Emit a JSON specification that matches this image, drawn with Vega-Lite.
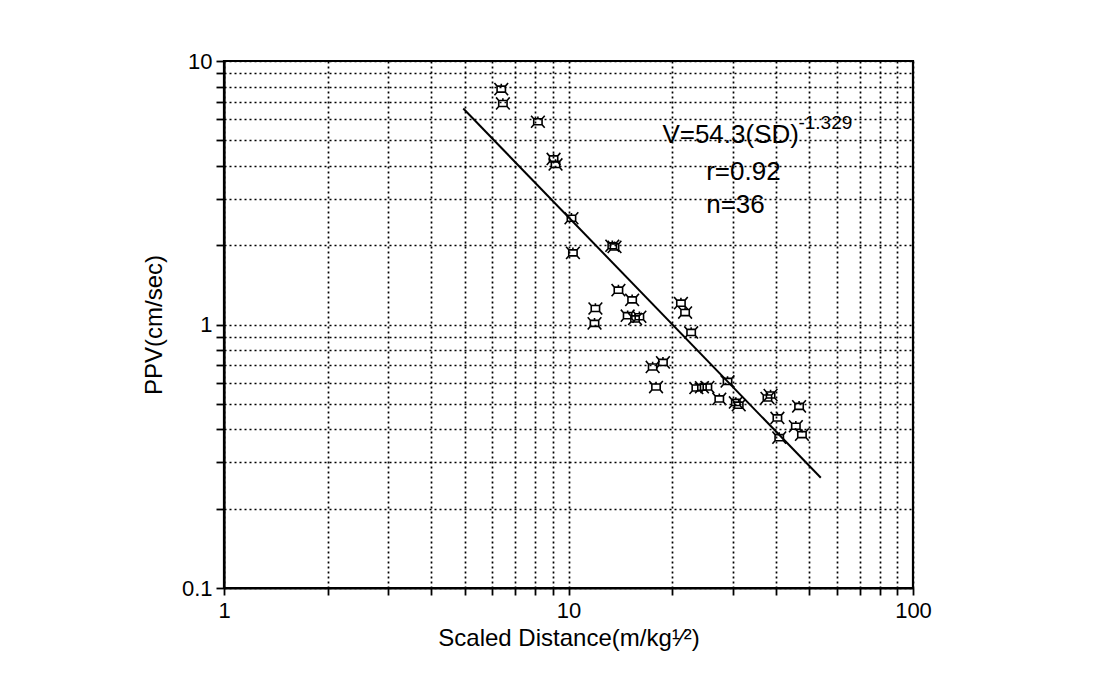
{
  "$schema": "https://vega.github.io/schema/vega-lite/v6.json",
  "autosize": {"type": "none"},
  "width": 689,
  "height": 527,
  "padding": {"left": 224, "top": 61, "right": 190, "bottom": 108},
  "background": "white",
  "config": {
    "view": {"stroke": "black", "strokeWidth": 2.2},
    "font": "Liberation Sans",
    "axis": {
      "domainColor": "black",
      "domainWidth": 2.2,
      "tickColor": "black",
      "tickWidth": 1.8,
      "grid": true,
      "gridColor": "black",
      "gridDash": [2, 3],
      "gridWidth": 1.7,
      "gridOpacity": 1,
      "labelColor": "black",
      "labelFont": "Liberation Sans",
      "labelFontSize": 22,
      "titleColor": "black",
      "titleFont": "Liberation Sans",
      "titleFontSize": 24,
      "titleFontWeight": "normal",
      "labelOverlap": false,
      "labelFlush": false
    }
  },
  "datasets": {
    "points": [
      {"sd": 6.38, "ppv": 7.82}, {"sd": 6.45, "ppv": 6.9}, {"sd": 8.15, "ppv": 5.88},
      {"sd": 9.17, "ppv": 4.05}, {"sd": 9.05, "ppv": 4.25}, {"sd": 10.2, "ppv": 2.53},
      {"sd": 13.4, "ppv": 1.99}, {"sd": 13.6, "ppv": 1.97}, {"sd": 10.3, "ppv": 1.87},
      {"sd": 13.96, "ppv": 1.35}, {"sd": 15.3, "ppv": 1.24}, {"sd": 11.97, "ppv": 1.15},
      {"sd": 11.9, "ppv": 1.01}, {"sd": 14.85, "ppv": 1.08}, {"sd": 16.06, "ppv": 1.07},
      {"sd": 15.6, "ppv": 1.05}, {"sd": 21.2, "ppv": 1.205}, {"sd": 21.8, "ppv": 1.11},
      {"sd": 22.7, "ppv": 0.933}, {"sd": 18.8, "ppv": 0.718}, {"sd": 17.55, "ppv": 0.69},
      {"sd": 17.95, "ppv": 0.579}, {"sd": 23.5, "ppv": 0.574}, {"sd": 24.4, "ppv": 0.578},
      {"sd": 25.3, "ppv": 0.579}, {"sd": 28.95, "ppv": 0.608}, {"sd": 27.4, "ppv": 0.522},
      {"sd": 30.6, "ppv": 0.506}, {"sd": 31.2, "ppv": 0.494}, {"sd": 37.8, "ppv": 0.526},
      {"sd": 38.6, "ppv": 0.54}, {"sd": 46.7, "ppv": 0.489}, {"sd": 40.4, "ppv": 0.442},
      {"sd": 45.7, "ppv": 0.411}, {"sd": 47.6, "ppv": 0.382}, {"sd": 40.9, "ppv": 0.372}
    ],
    "fit": [
      {"sd": 4.95, "ppv": 6.6},
      {"sd": 54, "ppv": 0.262}
    ]
  },
  "layer": [
    {
      "data": {"name": "points"},
      "mark": {
        "type": "point",
        "shape": "M-0.55,-0.4L0.55,-0.4L0.55,0.4L-0.55,0.4Z M-0.55,-0.4L-0.9,-0.8 M0.55,-0.4L0.9,-0.8 M0.55,0.4L0.9,0.8 M-0.55,0.4L-0.9,0.8 M0,-0.4L0,-0.7",
        "filled": false,
        "stroke": "black",
        "strokeWidth": 1.6,
        "size": 230,
        "opacity": 1
      },
      "encoding": {
        "x": {
          "field": "sd", "type": "quantitative",
          "scale": {"type": "log", "domain": [1, 100], "nice": false},
          "axis": {
            "title": "Scaled Distance(m/kg¹⁄²)",
            "values": [1, 2, 3, 4, 5, 6, 7, 8, 9, 10, 20, 30, 40, 50, 60, 70, 80, 90, 100],
            "labelExpr": "datum.value == 1 ? '1' : datum.value == 10 ? '10' : datum.value == 100 ? '100' : ''",
            "tickSize": 7,
            "labelPadding": 5,
            "titlePadding": 5
          }
        },
        "y": {
          "field": "ppv", "type": "quantitative",
          "scale": {"type": "log", "domain": [0.1, 10], "nice": false},
          "axis": {
            "title": "PPV(cm/sec)",
            "values": [0.1, 0.2, 0.3, 0.4, 0.5, 0.6, 0.7, 0.8, 0.9, 1, 2, 3, 4, 5, 6, 7, 8, 9, 10],
            "labelExpr": "datum.value == 0.1 ? '0.1' : datum.value == 1 ? '1' : datum.value == 10 ? '10' : ''",
            "tickSize": 8,
            "labelPadding": 4,
            "titlePadding": 15
          }
        }
      }
    },
    {
      "data": {"name": "fit"},
      "mark": {"type": "line", "color": "black", "strokeWidth": 2},
      "encoding": {
        "x": {"field": "sd", "type": "quantitative"},
        "y": {"field": "ppv", "type": "quantitative"}
      }
    },
    {
      "data": {"values": [{}]},
      "mark": {"type": "text", "align": "left", "baseline": "middle", "fontSize": 26, "font": "Liberation Sans", "color": "black"},
      "encoding": {
        "x": {"datum": 18.73, "type": "quantitative"},
        "y": {"datum": 5.23, "type": "quantitative"},
        "text": {"value": "V=54.3(SD)"}
      }
    },
    {
      "data": {"values": [{}]},
      "mark": {"type": "text", "align": "left", "baseline": "middle", "fontSize": 19, "font": "Liberation Sans", "color": "black"},
      "encoding": {
        "x": {"datum": 46.5, "type": "quantitative"},
        "y": {"datum": 5.8, "type": "quantitative"},
        "text": {"value": "-1.329"}
      }
    },
    {
      "data": {"values": [{}]},
      "mark": {"type": "text", "align": "left", "baseline": "middle", "fontSize": 26, "font": "Liberation Sans", "color": "black"},
      "encoding": {
        "x": {"datum": 25.1, "type": "quantitative"},
        "y": {"datum": 3.79, "type": "quantitative"},
        "text": {"value": "r=0.92"}
      }
    },
    {
      "data": {"values": [{}]},
      "mark": {"type": "text", "align": "left", "baseline": "middle", "fontSize": 26, "font": "Liberation Sans", "color": "black"},
      "encoding": {
        "x": {"datum": 25.1, "type": "quantitative"},
        "y": {"datum": 2.84, "type": "quantitative"},
        "text": {"value": "n=36"}
      }
    }
  ]
}
